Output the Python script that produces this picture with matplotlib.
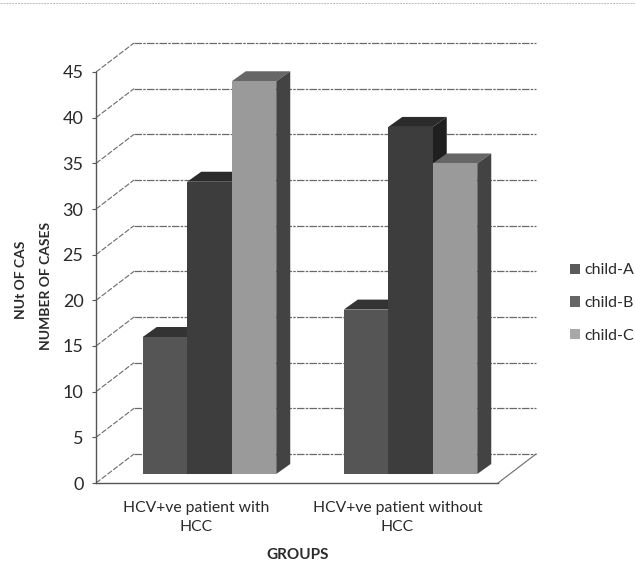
"""Pseudo-3D clustered column chart, child class by HCV group."""
import matplotlib

matplotlib.use("Agg")

import matplotlib.pyplot as plt
from matplotlib.patches import Patch, Polygon
from matplotlib.transforms import Affine2D

plt.rcParams["font.family"] = ["Lato", "DejaVu Sans"]

groups = ["HCV+ve patient with\nHCC", "HCV+ve patient without\nHCC"]
series_names = ["child-A", "child-B", "child-C"]
child_a = [15, 18]
child_b = [32, 38]
child_c = [43, 34]
y_ticks = [0, 5, 10, 15, 20, 25, 30, 35, 40, 45]

FRONT = ["#555555", "#3d3d3d", "#9a9a9a"]
TOP = ["#333333", "#2b2b2b", "#666666"]
SIDE = ["#2e2e2e", "#1f1f1f", "#434343"]
TEXT = "#2a2a2a"
GRID = "#6a6a6a"

W, H = 635, 563
# plot box of the front plane, in pixels
LEFT, RIGHT, BOTTOM, TOP_PX = 96, 498, 483, 72
WALL_DX, WALL_DY = 38, 29  # front plane to back wall
BAR_DX, BAR_DY = 13, 9  # front plane to bar fronts
DEPTH_DX, DEPTH_DY = 14, 10  # depth of a bar
BAR_W = 0.2214

fig = plt.figure(figsize=(W / 100, H / 100), dpi=100)
ax = fig.add_axes([LEFT / W, 1 - BOTTOM / H, (RIGHT - LEFT) / W, (BOTTOM - TOP_PX) / H])
ax.set_xlim(-0.5, 1.5)
ax.set_ylim(0, 45)
ax.patch.set_visible(False)

x_per_px = 2 / (RIGHT - LEFT)
y_per_px = 45 / (BOTTOM - TOP_PX)

bar_shift = Affine2D().translate(BAR_DX, BAR_DY)
wall_shift = Affine2D().translate(WALL_DX, WALL_DY)
bar_tf = ax.transData + bar_shift
wall_tf = ax.transData + wall_shift

# gridlines run from the axis, up the side wall and along the back wall
dx = WALL_DX * x_per_px
dy = WALL_DY * y_per_px
for v in y_ticks:
    ax.plot([-0.5, -0.5 + dx], [v, v + dy], color=GRID, lw=0.8, ls=(0, (5, 1.5)),
            clip_on=False, zorder=1)
    ax.plot([-0.5, 1.5], [v, v], color=GRID, lw=0.9, ls=(0, (6, 1, 2, 1)), transform=wall_tf,
            clip_on=False, zorder=1)
ax.plot([1.5, 1.5 + dx], [0, dy], color=GRID, lw=0.8, clip_on=False, zorder=1)

dep_x = DEPTH_DX * x_per_px
dep_y = DEPTH_DY * y_per_px
for i, values in enumerate([child_a, child_b, child_c]):
    for g, val in enumerate(values):
        x0 = g + (i - 1.5) * BAR_W
        x1 = x0 + BAR_W
        ax.bar(x0, val, width=BAR_W, align="edge", color=FRONT[i], transform=bar_tf,
               clip_on=False, zorder=3 + i * 2)
        top = [(x0, val), (x1, val), (x1 + dep_x, val + dep_y), (x0 + dep_x, val + dep_y)]
        side = [(x1, 0), (x1 + dep_x, dep_y), (x1 + dep_x, val + dep_y), (x1, val)]
        ax.add_patch(Polygon(top, closed=True, fc=TOP[i], ec="none", transform=bar_tf,
                             clip_on=False, zorder=2 + i * 2))
        ax.add_patch(Polygon(side, closed=True, fc=SIDE[i], ec="none", transform=bar_tf,
                             clip_on=False, zorder=2 + i * 2))

for name in ["top", "right"]:
    ax.spines[name].set_visible(False)
for name in ["left", "bottom"]:
    ax.spines[name].set_color("#555555")
    ax.spines[name].set_linewidth(1.0)

ax.set_yticks(y_ticks)
ax.set_xticks([0, 1])
ax.set_xticklabels(groups, fontsize=11.3, color=TEXT, linespacing=1.44)
ax.tick_params(axis="y", labelsize=13, labelcolor=TEXT, length=3, width=0.8, color="#555555", pad=6)
ax.tick_params(axis="x", length=0, pad=13)

ax.set_xlabel("GROUPS", fontsize=11, fontweight="bold", color=TEXT)
ax.xaxis.set_label_coords((298 - LEFT) / (RIGHT - LEFT), -(548 - BOTTOM) / (BOTTOM - TOP_PX))
ax.xaxis.label.set_va("top")

fig.text(46 / W, 1 - 286 / H, "NUMBER OF CASES", rotation=90, fontsize=10, fontweight="bold",
         color=TEXT, ha="center", va="center")
fig.text(21 / W, 1 - 280 / H, "NUt OF CAS", rotation=90, fontsize=10, fontweight="bold",
         color=TEXT, ha="center", va="center")

handles = [Patch(fc=c, ec="none") for c in ["#5a5a5a", "#666666", "#a8a8a8"]]
ax.legend(handles, series_names, loc="center left", bbox_to_anchor=(570 / W, 1 - 303 / H),
          bbox_transform=fig.transFigure, frameon=False, fontsize=11.5, labelcolor=TEXT,
          handlelength=0.62, handleheight=0.62, handletextpad=0.31, labelspacing=1.17,
          borderpad=0, borderaxespad=0)

# scan edge along the top of the page
fig.add_artist(plt.Line2D([0, 1], [1 - 3 / H, 1 - 3 / H], color="#bbbbbb", lw=0.7, ls=(0, (2, 1))))

fig.savefig("out.png", dpi=100)
